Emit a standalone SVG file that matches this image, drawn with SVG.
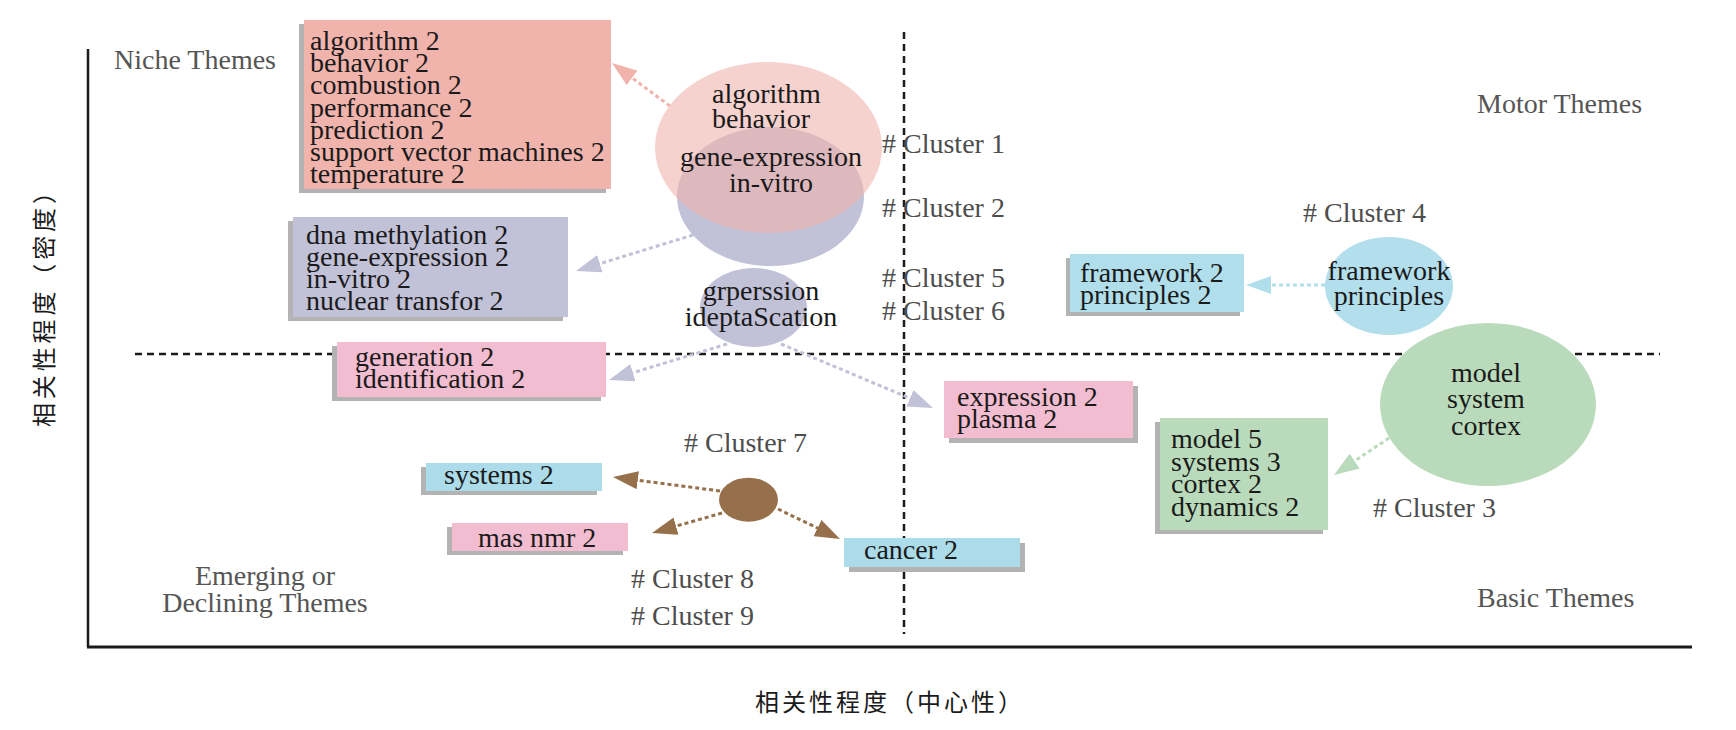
<svg xmlns="http://www.w3.org/2000/svg" width="1736" height="730" viewBox="0 0 1736 730">
<defs>
<style>
.t{font-family:"Liberation Serif","Times New Roman",serif;font-size:28px;fill:#1a1a1a}
.c{font-family:"Liberation Serif","Times New Roman",serif;font-size:28px;fill:#4d4d4d}
.th{font-family:"Liberation Serif","Times New Roman",serif;font-size:28px;fill:#555555}
.m{text-anchor:middle}
.sh{fill:#b3b3b3}
.cn{fill:none;stroke-width:3;stroke-dasharray:4 3}
.ax{font-family:"Noto Sans CJK SC","Noto Sans CJK JP",sans-serif;font-size:24px;fill:#1a1a1a}
.dash{stroke:#1a1a1a;stroke-width:2.5;stroke-dasharray:7 5;fill:none}
</style>
<marker id="aPink" viewBox="0 0 25 18" refX="15" refY="9" markerWidth="25" markerHeight="18" markerUnits="userSpaceOnUse" orient="auto"><path d="M0,0 L25,9 L0,18 Z" fill="#f0b4ad"/></marker>
<marker id="aPur" viewBox="0 0 25 18" refX="15" refY="9" markerWidth="25" markerHeight="18" markerUnits="userSpaceOnUse" orient="auto"><path d="M0,0 L25,9 L0,18 Z" fill="#c1c1d7"/></marker>
<marker id="aBlue" viewBox="0 0 25 18" refX="15" refY="9" markerWidth="25" markerHeight="18" markerUnits="userSpaceOnUse" orient="auto"><path d="M0,0 L25,9 L0,18 Z" fill="#b0deeb"/></marker>
<marker id="aGreen" viewBox="0 0 25 18" refX="15" refY="9" markerWidth="25" markerHeight="18" markerUnits="userSpaceOnUse" orient="auto"><path d="M0,0 L25,9 L0,18 Z" fill="#badbbb"/></marker>
<marker id="aBrown" viewBox="0 0 25 18" refX="15" refY="9" markerWidth="25" markerHeight="18" markerUnits="userSpaceOnUse" orient="auto"><path d="M0,0 L25,9 L0,18 Z" fill="#96704a"/></marker>
</defs>
<rect width="1736" height="730" fill="#ffffff"/>

<g id="axes">
<line x1="88" y1="49" x2="88" y2="647" stroke="#1a1a1a" stroke-width="2.5"/>
<line x1="87" y1="647" x2="1692" y2="647" stroke="#1a1a1a" stroke-width="3"/>
<line class="dash" x1="135" y1="354" x2="1660" y2="354"/>
<line class="dash" x1="904" y1="32" x2="904" y2="634"/>
<text class="ax" x="755" y="711" textLength="267">相关性程度（中心性）</text>
<text class="ax" transform="translate(53,427) rotate(-90)" textLength="247">相关性程度（密度）</text>
</g>

<g id="theme-labels">
<text class="th" x="114" y="69">Niche Themes</text>
<text class="th" x="1477" y="113">Motor Themes</text>
<text class="th" x="1477" y="607">Basic Themes</text>
<text class="th m" x="265" y="585">Emerging or</text>
<text class="th m" x="265" y="612">Declining Themes</text>
</g>

<g id="cluster-labels">
<text class="c" x="882" y="153"># Cluster 1</text>
<text class="c" x="882" y="217"># Cluster 2</text>
<text class="c" x="882" y="287"># Cluster 5</text>
<text class="c" x="882" y="320"># Cluster 6</text>
<text class="c" x="1303" y="222"># Cluster 4</text>
<text class="c" x="1373" y="517"># Cluster 3</text>
<text class="c" x="684" y="452"># Cluster 7</text>
<text class="c" x="631" y="588"># Cluster 8</text>
<text class="c" x="631" y="625"># Cluster 9</text>
</g>

<g id="connectors">
<line class="cn" stroke="#f0b4ad" x1="670" y1="106" x2="620" y2="69" marker-end="url(#aPink)"/>
<line class="cn" stroke="#c1c1d7" x1="693" y1="235" x2="585.6" y2="268.1" marker-end="url(#aPur)"/>
<line class="cn" stroke="#c1c1d7" x1="727" y1="344" x2="618.6" y2="377.1" marker-end="url(#aPur)"/>
<line class="cn" stroke="#c1c1d7" x1="781" y1="344" x2="923.8" y2="404.1" marker-end="url(#aPur)"/>
<line class="cn" stroke="#b0deeb" x1="1325" y1="285" x2="1256" y2="285" marker-end="url(#aBlue)"/>
<line class="cn" stroke="#badbbb" x1="1389" y1="438" x2="1342.3" y2="469.4" marker-end="url(#aGreen)"/>
<line class="cn" stroke="#96704a" x1="720" y1="491" x2="622.9" y2="478.3" marker-end="url(#aBrown)"/>
<line class="cn" stroke="#96704a" x1="722" y1="513" x2="661.6" y2="530.3" marker-end="url(#aBrown)"/>
<line class="cn" stroke="#96704a" x1="778" y1="509" x2="831" y2="534.6" marker-end="url(#aBrown)"/>
</g>

<g id="cluster2">
<ellipse cx="770.5" cy="196.5" rx="93.5" ry="69.5" fill="#c1c1d7"/>
</g>
<g id="cluster1">
<ellipse cx="768.5" cy="147.5" rx="113.5" ry="85.5" fill="#f0b4ad" fill-opacity="0.6"/>
<text class="t" x="712" y="103">algorithm</text>
<text class="t" x="712" y="128">behavior</text>
</g>
<g id="cluster2-label">
<text class="t m" x="771" y="166">gene-expression</text>
<text class="t m" x="771" y="192">in-vitro</text>
</g>
<g id="cluster56">
<ellipse cx="753.5" cy="307.5" rx="53.5" ry="39.5" fill="#c1c1d7"/>
<text class="t m" x="761" y="300">grperssion</text>
<text class="t m" x="761" y="326">ideptaScation</text>
</g>
<g id="cluster4">
<ellipse cx="1389" cy="286" rx="64" ry="49" fill="#b3deeb"/>
<text class="t m" x="1389" y="280">framework</text>
<text class="t m" x="1389" y="305">principles</text>
</g>
<g id="cluster3">
<ellipse cx="1488" cy="404.5" rx="108" ry="81.5" fill="#badbbb"/>
<text class="t m" x="1486" y="382">model</text>
<text class="t m" x="1486" y="408">system</text>
<text class="t m" x="1486" y="435">cortex</text>
</g>
<g id="cluster7">
<ellipse cx="748.5" cy="499.7" rx="29.5" ry="22" fill="#96704a"/>
</g>

<g id="box-cluster1">
<rect class="sh" x="299" y="24" width="307" height="169"/>
<rect x="304" y="20" width="307" height="169" fill="#f0b4ad"/>
<text class="t" x="310" y="50">algorithm 2</text>
<text class="t" x="310" y="72.2">behavior 2</text>
<text class="t" x="310" y="94.3">combustion 2</text>
<text class="t" x="310" y="116.5">performance 2</text>
<text class="t" x="310" y="138.7">prediction 2</text>
<text class="t" x="310" y="160.8">support vector machines 2</text>
<text class="t" x="310" y="183">temperature 2</text>
</g>
<g id="box-cluster2">
<rect class="sh" x="288" y="221" width="275" height="100"/>
<rect x="293" y="217" width="275" height="100" fill="#c1c1d7"/>
<text class="t" x="306" y="244">dna methylation 2</text>
<text class="t" x="306" y="266">gene-expression 2</text>
<text class="t" x="306" y="288">in-vitro 2</text>
<text class="t" x="306" y="310">nuclear transfor 2</text>
</g>
<g id="box-cluster5">
<rect class="sh" x="332" y="346" width="269" height="55"/>
<rect x="337" y="342" width="269" height="55" fill="#f2bdd0"/>
<text class="t" x="355" y="366">generation 2</text>
<text class="t" x="355" y="388">identification 2</text>
</g>
<g id="box-cluster6">
<rect class="sh" x="949" y="386" width="189" height="57"/>
<rect x="944" y="381" width="189" height="57" fill="#f2bdd0"/>
<text class="t" x="957" y="406">expression 2</text>
<text class="t" x="957" y="428">plasma 2</text>
</g>
<g id="box-cluster4">
<rect class="sh" x="1066" y="258" width="174" height="58"/>
<rect x="1070" y="254" width="174" height="58" fill="#b0deeb"/>
<text class="t" x="1080" y="282">framework 2</text>
<text class="t" x="1080" y="304">principles 2</text>
</g>
<g id="box-cluster3">
<rect class="sh" x="1155" y="422" width="168" height="112"/>
<rect x="1160" y="418" width="168" height="112" fill="#badbbb"/>
<text class="t" x="1171" y="448">model 5</text>
<text class="t" x="1171" y="470.5">systems 3</text>
<text class="t" x="1171" y="493">cortex 2</text>
<text class="t" x="1171" y="515.5">dynamics 2</text>
</g>
<g id="box-cluster7">
<rect class="sh" x="421" y="467" width="176" height="28"/>
<rect x="426" y="463" width="176" height="28" fill="#acdcea"/>
<text class="t" x="444" y="484">systems 2</text>
</g>
<g id="box-cluster8">
<rect class="sh" x="447" y="527" width="176" height="28"/>
<rect x="452" y="523" width="176" height="28" fill="#f2bdd0"/>
<text class="t" x="478" y="547">mas nmr 2</text>
</g>
<g id="box-cluster9">
<rect class="sh" x="849" y="543" width="176" height="29"/>
<rect x="844" y="538" width="176" height="29" fill="#acdcea"/>
<text class="t" x="864" y="559">cancer 2</text>
</g>
</svg>
